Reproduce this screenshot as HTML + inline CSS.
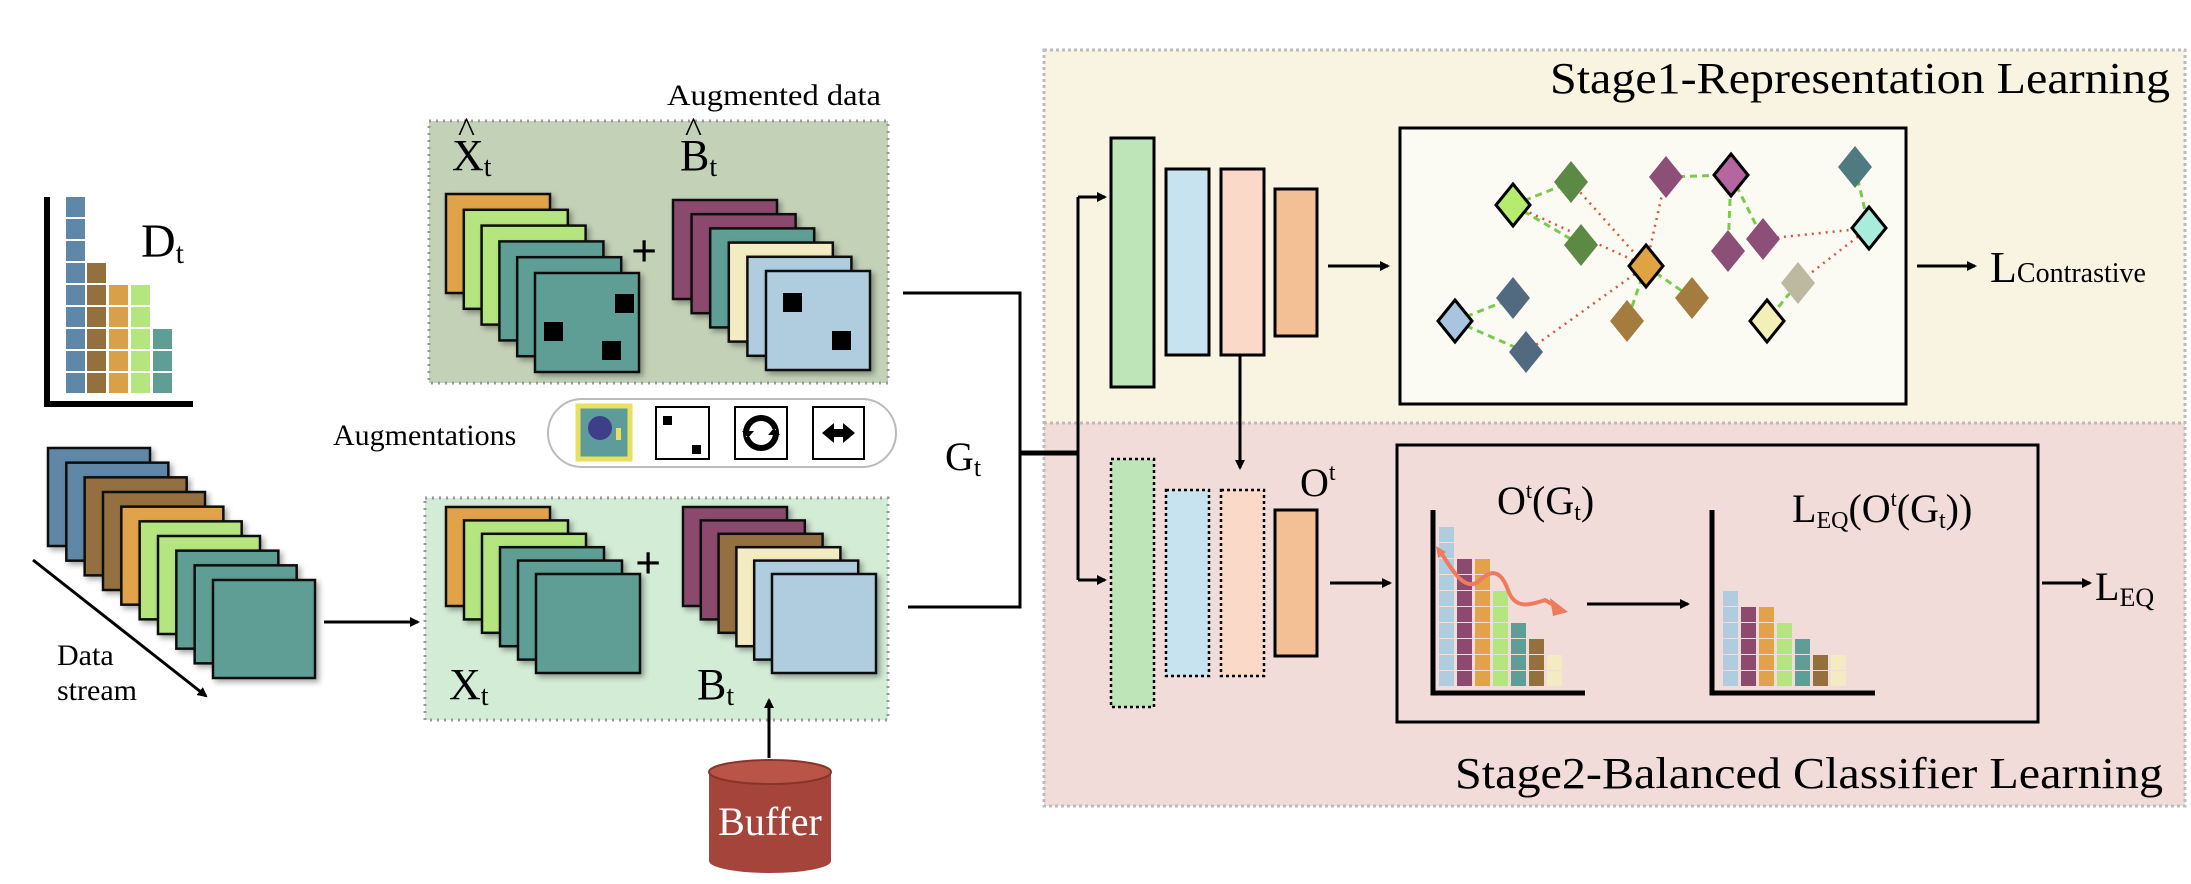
<!DOCTYPE html>
<html><head><meta charset="utf-8"><style>
html,body{margin:0;padding:0;background:#fff;}
svg{display:block;}
text{font-family:"Liberation Serif",serif;fill:#000;}
</style></head><body>
<svg id="s" width="2191" height="884" viewBox="0 0 2191 884" xmlns="http://www.w3.org/2000/svg">
<defs>
<marker id="ah" markerWidth="10" markerHeight="10" refX="8" refY="5" orient="auto" markerUnits="userSpaceOnUse"><path d="M0,0 L10,5 L0,10 z" fill="#000"/></marker>
<filter id="sh" x="-20%" y="-20%" width="150%" height="150%"><feDropShadow dx="3" dy="3" stdDeviation="3" flood-color="#000" flood-opacity="0.35"/></filter>
</defs>

<!-- stage background -->
<rect x="1044" y="50" width="1141" height="373" fill="#f8f4e1"/>
<rect x="1044" y="423" width="1141" height="383" fill="#f1dcda"/>
<rect x="1044" y="50" width="1141" height="756" fill="none" stroke="#bbb" stroke-width="3" stroke-dasharray="3,3"/>
<line x1="1044" y1="423" x2="2185" y2="423" stroke="#bbb" stroke-width="3" stroke-dasharray="3,3"/>
<text x="2170" y="93" font-size="44" text-anchor="end" textLength="620" lengthAdjust="spacingAndGlyphs">Stage1-Representation Learning</text>
<text x="2163" y="788" font-size="44" text-anchor="end" textLength="708" lengthAdjust="spacingAndGlyphs">Stage2-Balanced Classifier Learning</text>

<!-- left boxes -->
<rect x="429" y="121" width="459" height="262" fill="#c3d1b7" stroke="#999" stroke-width="3" stroke-dasharray="2,5"/>
<rect x="425" y="498" width="463" height="222" fill="#d3ecd6" stroke="#999" stroke-width="3" stroke-dasharray="2,5"/>
<text x="667" y="105" font-size="30" textLength="214" lengthAdjust="spacingAndGlyphs">Augmented data</text>

<g id="dyn"></g>

<!-- Dt axis -->
<path d="M47,197 L47,404 L193,404" fill="none" stroke="#000" stroke-width="6"/>
<text x="141" y="257" font-size="48">D<tspan font-size="30" dy="6">t</tspan></text>

<!-- data stream arrow -->
<line x1="33" y1="560" x2="206" y2="696" stroke="#000" stroke-width="3" marker-end="url(#ah)"/>
<text x="57" y="665" font-size="30">Data</text>
<text x="57" y="700" font-size="30">stream</text>
<line x1="324" y1="622" x2="418" y2="622" stroke="#000" stroke-width="3" marker-end="url(#ah)"/>

<!-- labels -->
<text x="452" y="170" font-size="44">X<tspan font-size="28" dy="6">t</tspan></text>
<text x="458" y="142" font-size="36">^</text>
<text x="680" y="170" font-size="44">B<tspan font-size="28" dy="6">t</tspan></text>
<text x="685" y="142" font-size="36">^</text>
<text x="631" y="266" font-size="46" font-weight="bold" font-family="Liberation Sans">+</text>
<text x="635" y="578" font-size="46" font-weight="bold" font-family="Liberation Sans">+</text>
<text x="449" y="699" font-size="44">X<tspan font-size="28" dy="6">t</tspan></text>
<text x="697" y="699" font-size="44">B<tspan font-size="28" dy="6">t</tspan></text>

<!-- augmentations -->
<text x="333" y="445" font-size="30">Augmentations</text>
<rect x="548" y="399" width="348" height="68" rx="34" fill="#fff" stroke="#bbb" stroke-width="2"/>
<rect x="578" y="406" width="52" height="53" fill="#5d9c9a"/>
<rect x="578" y="406" width="52" height="53" fill="none" stroke="#e8e060" stroke-width="5"/>
<circle cx="600" cy="428" r="12" fill="#3d3f8a"/><rect x="616" y="428" width="5" height="12" fill="#e8e060"/>
<rect x="656" y="407" width="53" height="52" fill="#fff" stroke="#000" stroke-width="2"/>
<rect x="663" y="416" width="9" height="9" fill="#000"/><rect x="692" y="445" width="9" height="9" fill="#000"/>
<rect x="735" y="407" width="52" height="52" fill="#fff" stroke="#000" stroke-width="2"/>
<circle cx="761" cy="433" r="15" fill="none" stroke="#000" stroke-width="6"/>
<rect x="746" y="431" width="10" height="6" fill="#fff"/><rect x="766" y="429" width="10" height="6" fill="#fff"/>
<path d="M742,431 L754,431 L748,438z M768,435 L780,435 L774,428z" fill="#000"/>
<rect x="813" y="407" width="51" height="52" fill="#fff" stroke="#000" stroke-width="2"/>
<path d="M822,433 L834,423 L834,443z M855,433 L843,423 L843,443z" fill="#000"/><rect x="832" y="429" width="13" height="8" fill="#000"/>

<!-- buffer -->
<path d="M709,772 L709,861 A61,12 0 0 0 831,861 L831,772 z" fill="#a5443a"/>
<ellipse cx="770" cy="772" rx="61" ry="12" fill="#b85548" stroke="#8a3329" stroke-width="2"/>
<text x="770" y="835" font-size="40" text-anchor="middle" style="fill:#fff">Buffer</text>
<line x1="769" y1="758" x2="769" y2="700" stroke="#000" stroke-width="3" marker-end="url(#ah)"/>

<!-- Gt lines -->
<path d="M903,293 L1020,293 L1020,607 L908,607" fill="none" stroke="#000" stroke-width="3"/>
<line x1="1020" y1="453" x2="1078" y2="453" stroke="#000" stroke-width="5"/>
<text x="945" y="470" font-size="40">G<tspan font-size="26" dy="6">t</tspan></text>
<path d="M1078,580 L1078,197" fill="none" stroke="#000" stroke-width="3"/>
<line x1="1078" y1="197" x2="1105" y2="197" stroke="#000" stroke-width="3" marker-end="url(#ah)"/>
<line x1="1078" y1="580" x2="1105" y2="580" stroke="#000" stroke-width="3" marker-end="url(#ah)"/>

<!-- encoder top -->
<rect x="1111" y="138" width="43" height="249" fill="#bde5b7" stroke="#000" stroke-width="3"/>
<rect x="1166" y="169" width="43" height="186" fill="#c8e3f0" stroke="#000" stroke-width="3"/>
<rect x="1221" y="169" width="43" height="186" fill="#fbd9c9" stroke="#000" stroke-width="3"/>
<rect x="1275" y="189" width="42" height="147" fill="#f3c096" stroke="#000" stroke-width="3"/>
<line x1="1328" y1="266" x2="1388" y2="266" stroke="#000" stroke-width="3" marker-end="url(#ah)"/>
<line x1="1240" y1="355" x2="1240" y2="468" stroke="#000" stroke-width="3" marker-end="url(#ah)"/>

<!-- encoder bottom -->
<rect x="1111" y="459" width="43" height="248" fill="#bde5b7" stroke="#000" stroke-width="2.5" stroke-dasharray="3,3"/>
<rect x="1166" y="490" width="43" height="186" fill="#c8e3f0" stroke="#000" stroke-width="2.5" stroke-dasharray="3,3"/>
<rect x="1221" y="490" width="43" height="186" fill="#fbd9c9" stroke="#000" stroke-width="2.5" stroke-dasharray="3,3"/>
<rect x="1275" y="510" width="42" height="146" fill="#f3c096" stroke="#000" stroke-width="3"/>
<text x="1300" y="496" font-size="40">O<tspan font-size="24" dy="-16">t</tspan></text>
<line x1="1330" y1="583" x2="1390" y2="583" stroke="#000" stroke-width="3" marker-end="url(#ah)"/>

<!-- contrastive box -->
<rect x="1400" y="128" width="506" height="276" fill="#fff" fill-opacity="0.6" stroke="#000" stroke-width="3"/>
<g id="dia"></g>
<line x1="1917" y1="266" x2="1975" y2="266" stroke="#000" stroke-width="3" marker-end="url(#ah)"/>
<text x="1990" y="282" font-size="44">L<tspan font-size="28">Contrastive</tspan></text>

<!-- LEQ box -->
<rect x="1397" y="445" width="641" height="277" fill="none" stroke="#000" stroke-width="3"/>
<path d="M1433,510 L1433,693 L1585,693" fill="none" stroke="#000" stroke-width="5"/>
<path d="M1712,510 L1712,693 L1875,693" fill="none" stroke="#000" stroke-width="5"/>
<text x="1497" y="514" font-size="40">O<tspan font-size="22" dy="-16">t</tspan><tspan dy="16">(G</tspan><tspan font-size="24" dy="6">t</tspan><tspan dy="-6">)</tspan></text>
<text x="1792" y="522" font-size="40">L<tspan font-size="24" dy="6">EQ</tspan><tspan dy="-6">(O</tspan><tspan font-size="22" dy="-16">t</tspan><tspan dy="16">(G</tspan><tspan font-size="24" dy="6">t</tspan><tspan dy="-6">))</tspan></text>
<line x1="1587" y1="604" x2="1688" y2="604" stroke="#000" stroke-width="3" marker-end="url(#ah)"/>
<line x1="2042" y1="583" x2="2090" y2="583" stroke="#000" stroke-width="3" marker-end="url(#ah)"/>
<text x="2095" y="600" font-size="40">L<tspan font-size="26" dy="6">EQ</tspan></text>
<g id="bars"></g>
<path d="M1440,551 C1455,575 1465,590 1478,582 C1490,570 1500,568 1508,590 C1515,610 1530,605 1545,600 L1562,610" fill="none" stroke="#ef7a5d" stroke-width="4"/>
<path d="M1568,612 L1550,598 L1553,616 z M1436,546 L1446,552 L1438,558z" fill="#ef7a5d"/>
</svg>
<script>
var NS="http://www.w3.org/2000/svg";
function el(p,t,a){var e=document.createElementNS(NS,t);for(var k in a)e.setAttribute(k,a[k]);p.appendChild(e);return e;}
var dyn=document.getElementById('dyn');
// Dt bars
var cx=[66,87,109,131,153],cols=['#5f87a8','#94703f','#d9a04a','#b5e57f','#5f9e94'],rows=[9,6,5,5,3];
for(var i=0;i<5;i++)for(var r=0;r<rows[i];r++)el(dyn,'rect',{x:cx[i],y:394-22*(r+1)+1,width:19,height:20,fill:cols[i]});
function stack(x0,y0,x1,y1,w,h,colors,marks){
 var n=colors.length;
 for(var i=0;i<n;i++){var x=x0+(x1-x0)*i/(n-1),y=y0+(y1-y0)*i/(n-1);
  el(dyn,'rect',{x:x,y:y,width:w,height:h,fill:colors[i],stroke:'#111','stroke-width':2.5,filter:'url(#sh)'});}
 if(marks)marks.forEach(function(m){el(dyn,'rect',{x:m[0],y:m[1],width:19,height:19,fill:'#000'});});
}
var B='#5f87a8',BR='#94703f',O='#e0a34a',G='#b5e57f',T='#5f9e94',P='#8b4a6e',C='#f3ecc2',LB='#b0cde0';
stack(48,448,213,580,102,98,[B,B,BR,BR,O,G,G,T,T,T]);
stack(446,194,535,273,104,99,[O,G,G,T,T,T],[[615,294],[544,322],[602,341]]);
stack(673,200,766,271,104,99,[P,P,T,C,LB,LB],[[783,293],[832,331]]);
stack(446,507,536,574,104,99,[O,G,G,T,T,T]);
stack(683,507,772,574,104,99,[P,P,BR,C,LB,LB]);
// diamonds
var dia=document.getElementById('dia');
var D=[[1513,205,'#b6ec6d',1],[1571,182,'#5c8a44'],[1581,245,'#5c8a44'],[1666,177,'#8b4f78'],[1731,175,'#b565a0',1],[1855,167,'#4f7a80'],[1869,228,'#a8ecdc',1],[1763,239,'#8b4f78'],[1728,251,'#8b4f78'],[1646,266,'#e0a341',1],[1692,298,'#a57c40'],[1627,321,'#a57c40'],[1798,283,'#bdb8a0'],[1767,321,'#f3efb8',1],[1513,298,'#526a80'],[1455,321,'#a8c4df',1],[1526,352,'#526a80']];
var gl=[[0,1],[0,2],[3,4],[4,7],[4,8],[5,6],[9,10],[9,11],[12,13],[15,14],[15,16]];
var rl=[[1,9],[3,9],[7,6],[9,16],[6,12],[9,0]];
gl.forEach(function(p){el(dia,'line',{x1:D[p[0]][0],y1:D[p[0]][1],x2:D[p[1]][0],y2:D[p[1]][1],stroke:'#7acb4a','stroke-width':3,'stroke-dasharray':'7,5'});});
rl.forEach(function(p){el(dia,'line',{x1:D[p[0]][0],y1:D[p[0]][1],x2:D[p[1]][0],y2:D[p[1]][1],stroke:'#e0503a','stroke-width':2.5,'stroke-dasharray':'2,5'});});
D.forEach(function(d){var x=d[0],y=d[1],a=17,b=21;el(dia,'path',{d:'M'+x+','+(y-b)+' L'+(x+a)+','+y+' L'+x+','+(y+b)+' L'+(x-a)+','+y+'z',fill:d[2],stroke:d[3]?'#000':'none','stroke-width':3});});
// bars charts
var bars=document.getElementById('bars');
var bc=['#b0cde0','#8b4a6e','#e0a34a','#b5e57f','#5f9e94','#94703f','#f3ecc2'];
function chart(xs,hs){for(var i=0;i<7;i++)for(var r=0;r<hs[i];r++)el(bars,'rect',{x:xs[i],y:686-16*(r+1)+1,width:15,height:15,fill:bc[i]});}
chart([1439,1457,1475,1493,1511,1529,1547],[10,8,8,6,4,3,2]);
chart([1723,1741,1759,1777,1795,1813,1831],[6,5,5,4,3,2,2]);
</script>
</body></html>
